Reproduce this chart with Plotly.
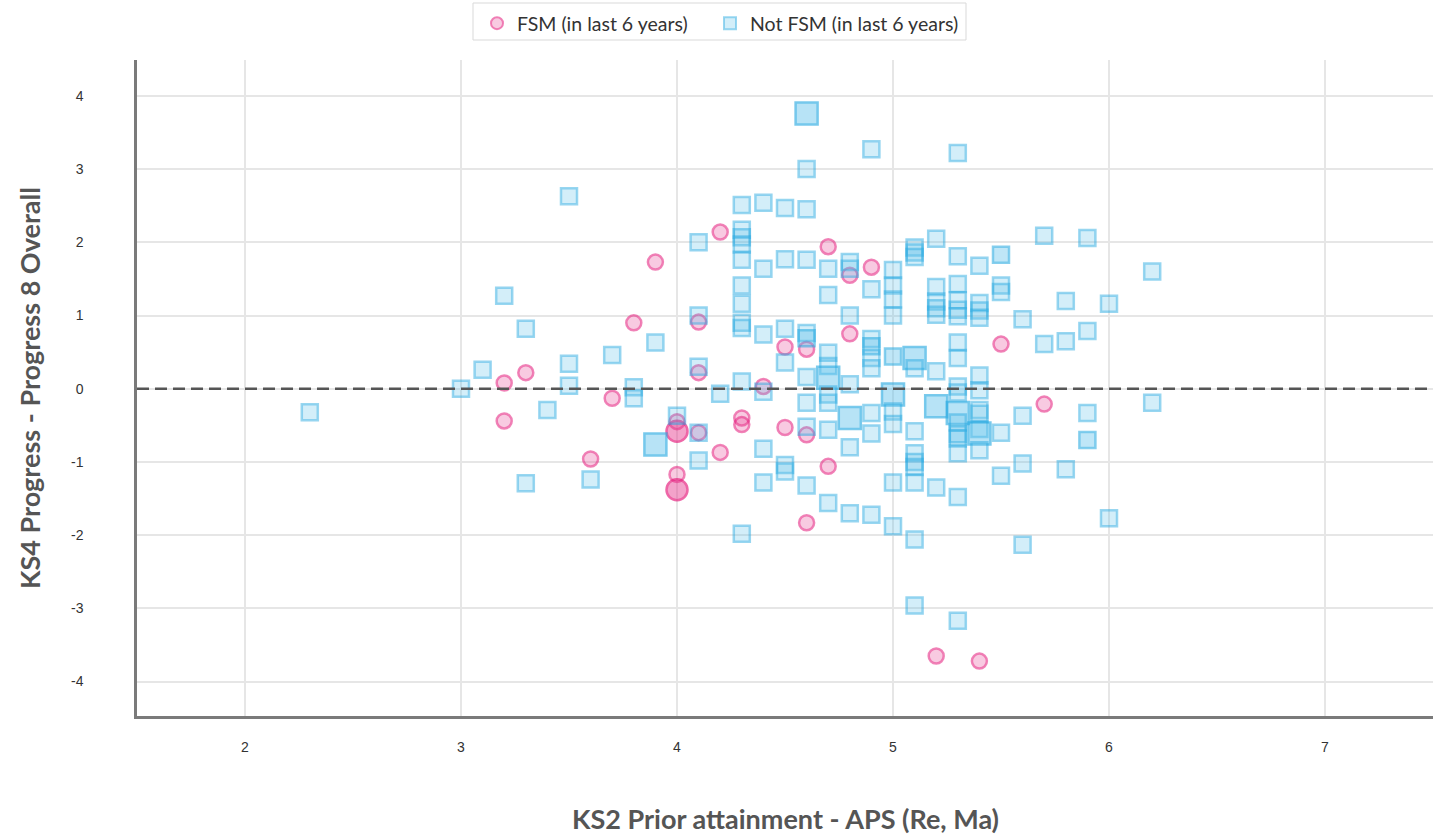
import plotly.graph_objects as go

# ---------------- data ----------------
fsm_x = [3.2, 3.2, 3.3, 3.6, 3.7, 3.8, 3.9,
         4.0, 4.0, 4.0, 4.0,
         4.1, 4.1, 4.1, 4.2, 4.2, 4.3, 4.3, 4.4, 4.5, 4.5,
         4.6, 4.6, 4.6, 4.7, 4.7, 4.8, 4.8, 4.9,
         5.2, 5.4, 5.5, 5.7]
fsm_y = [0.08, -0.44, 0.22, -0.96, -0.13, 0.90, 1.73,
         -0.45, -0.58, -1.17, -1.38,
         0.91, 0.22, -0.60, 2.14, -0.87, -0.40, -0.49, 0.03, 0.57, -0.53,
         0.54, -0.63, -1.83, 1.94, -1.06, 1.55, 0.75, 1.66,
         -3.65, -3.72, 0.61, -0.21]
fsm_n = [1, 1, 1, 1, 1, 1, 1,
         1, 3, 1, 3,
         1, 1, 1, 1, 1, 1, 1, 1, 1, 1,
         1, 1, 1, 1, 1, 1, 1, 1,
         1, 1, 1, 1]

not_x = [2.3, 3.0, 3.1, 3.2, 3.3, 3.3, 3.4, 3.5, 3.5, 3.5, 3.6, 3.7, 3.8, 3.8,
         3.9, 3.9, 4.0,
         4.1, 4.1, 4.1, 4.1, 4.1, 4.2,
         4.3, 4.3, 4.3, 4.3, 4.3, 4.3, 4.3, 4.3, 4.3, 4.3, 4.3,
         4.4, 4.4, 4.4, 4.4, 4.4, 4.4,
         4.5, 4.5, 4.5, 4.5, 4.5, 4.5,
         4.6, 4.6, 4.6, 4.6, 4.6, 4.6, 4.6, 4.6, 4.6, 4.6,
         4.7, 4.7, 4.7, 4.7, 4.7, 4.7, 4.7, 4.7, 4.7,
         4.8, 4.8, 4.8, 4.8, 4.8, 4.8, 4.8,
         4.9, 4.9, 4.9, 4.9, 4.9, 4.9, 4.9, 4.9, 4.9,
         5.0, 5.0, 5.0, 5.0, 5.0, 5.0, 5.0, 5.0, 5.0, 5.0,
         5.1, 5.1, 5.1, 5.1, 5.1, 5.1, 5.1, 5.1, 5.1, 5.1, 5.1, 5.1,
         5.2, 5.2, 5.2, 5.2, 5.2, 5.2, 5.2, 5.2,
         5.3, 5.3, 5.3, 5.3, 5.3, 5.3, 5.3, 5.3, 5.3, 5.3, 5.3, 5.3, 5.3, 5.3, 5.3, 5.3, 5.3,
         5.4, 5.4, 5.4, 5.4, 5.4, 5.4, 5.4, 5.4, 5.4, 5.4, 5.4,
         5.5, 5.5, 5.5, 5.5, 5.5,
         5.6, 5.6, 5.6, 5.6,
         5.7, 5.7,
         5.8, 5.8, 5.8,
         5.9, 5.9, 5.9, 5.9,
         6.0, 6.0,
         6.2, 6.2]
not_y = [-0.32, 0.00, 0.26, 1.27, 0.82, -1.29, -0.29, 2.63, 0.34, 0.04, -1.24, 0.46, 0.02, -0.13,
         0.63, -0.76, -0.37,
         2.00, 1.00, 0.30, -0.60, -0.98, -0.07,
         2.51, 2.17, 2.07, 1.97, 1.76, 1.41, 1.16, 0.90, 0.83, 0.10, -1.98,
         2.54, 1.64, 0.74, -0.04, -0.82, -1.28,
         2.47, 1.77, 0.82, 0.36, -1.04, -1.13,
         3.76, 3.00, 2.45, 1.76, 0.76, 0.69, 0.16, -0.19, -0.52, -1.32,
         1.64, 1.28, 0.49, 0.31, 0.15, -0.08, -0.19, -0.56, -1.56,
         1.73, 1.64, 1.00, 0.06, -0.40, -0.80, -1.70,
         3.27, 1.36, 0.68, 0.58, 0.42, 0.28, -0.33, -0.61, -1.72,
         1.62, 1.41, 1.22, 1.00, 0.44, -0.08, -0.31, -0.48, -1.28, -1.88,
         1.93, 1.86, 1.80, 0.42, 0.28, -0.58, -0.88, -1.00, -1.07, -1.28, -2.06, -2.96,
         2.05, 1.39, 1.19, 1.10, 1.01, 0.24, -0.24, -1.35,
         3.22, 1.81, 1.43, 1.21, 1.08, 0.99, 0.63, 0.42, 0.03, -0.05, -0.33, -0.46, -0.62, -0.68, -0.88, -1.48, -3.17,
         1.68, 1.17, 1.07, 0.97, 0.18, -0.02, -0.29, -0.34, -0.55, -0.61, -0.84,
         1.83, 1.41, 1.32, -0.60, -1.19,
         0.95, -0.37, -1.02, -2.13,
         2.09, 0.61,
         1.20, 0.65, -1.10,
         2.06, 0.79, -0.33, -0.70,
         1.16, -1.77,
         1.60, -0.19]
not_n = [1, 1, 1, 1, 1, 1, 1, 1, 1, 1, 1, 1, 1, 1,
         1, 3, 1,
         1, 1, 1, 1, 1, 1,
         1, 1, 1, 1, 1, 1, 1, 1, 1, 1, 1,
         1, 1, 1, 1, 1, 1,
         1, 1, 1, 1, 1, 1,
         3, 1, 1, 1, 1, 2, 1, 1, 1, 1,
         1, 1, 1, 1, 3, 1, 1, 1, 1,
         1, 1, 1, 1, 3, 1, 1,
         1, 1, 1, 2, 1, 1, 1, 1, 1,
         1, 1, 1, 1, 2, 3, 1, 1, 1, 1,
         1, 1, 1, 3, 1, 1, 1, 1, 1, 1, 1, 1,
         1, 1, 1, 1, 1, 1, 3, 1,
         1, 1, 1, 1, 1, 1, 1, 1, 1, 1, 3, 1, 2, 1, 1, 1, 1,
         1, 1, 1, 1, 1, 1, 1, 1, 1, 3, 1,
         2, 1, 1, 1, 1,
         1, 1, 1, 1,
         1, 1,
         1, 1, 1,
         1, 1, 1, 2,
         1, 1,
         1, 1]

x_ticks = [2, 3, 4, 5, 6, 7]
y_ticks = [-4, -3, -2, -1, 0, 1, 2, 3, 4]
x_title = "KS2 Prior attainment - APS (Re, Ma)"
y_title = "KS4 Progress - Progress 8 Overall"
names = ["FSM (in last 6 years)", "Not FSM (in last 6 years)"]

# ---------------- styling helpers ----------------
W, H = 1445, 838
ML, MR, MT, MB = 137, 12, 60, 122
PW, PH = W - ML - MR, H - MT - MB

def px_x(p):   # page pixel -> paper x
    return (p - ML) / PW

def px_y(p):   # page pixel -> paper y
    return (H - MB - p) / PH

def sizes(ns, base, big):
    return [big if n >= 3 else base for n in ns]

def fills(ns, rgb, a1, a2, a3):
    out = []
    for n in ns:
        a = a3 if n >= 3 else (a2 if n == 2 else a1)
        out.append("rgba(%d,%d,%d,%.2f)" % (rgb + (a,)))
    return out

fig = go.Figure()

fig.add_trace(go.Scatter(
    x=fsm_x, y=fsm_y, mode="markers", name=names[0], legend="legend",
    marker=dict(symbol="circle", size=sizes(fsm_n, 15, 21),
                color=fills(fsm_n, (232, 60, 145), 0.38, 0.5, 0.68),
                line=dict(color=fills(fsm_n, (230, 30, 125), 0.78, 0.85, 0.95), width=2.5)),
))
fig.add_trace(go.Scatter(
    x=not_x, y=not_y, mode="markers", name=names[1], legend="legend2",
    marker=dict(symbol="square", size=sizes(not_n, 16, 22),
                color=fills(not_n, (91, 192, 235), 0.38, 0.55, 0.62),
                line=dict(color=fills(not_n, (40, 170, 225), 0.68, 0.8, 0.88), width=2.5)),
))

# zero reference line
fig.add_shape(type="line", xref="paper", yref="y", x0=0, x1=1, y0=0, y1=0,
              line=dict(color="#555555", width=2.5, dash="12px,6px"), layer="above")
# legend frame
fig.add_shape(type="rect", xref="paper", yref="paper",
              x0=px_x(473), x1=px_x(966), y0=px_y(40), y1=px_y(3),
              line=dict(color="#d9d9d9", width=1), fillcolor="rgba(0,0,0,0)", layer="above")

leg_font = dict(family="Lato, sans-serif", size=19.5, color="#333333")
fig.update_layout(
    width=W, height=H,
    margin=dict(l=ML, r=MR, t=MT, b=MB),
    paper_bgcolor="white", plot_bgcolor="white",
    font=dict(family="Liberation Sans, Arial, sans-serif", size=14, color="#333333"),
    showlegend=True,
    legend=dict(orientation="h", xref="container", yref="container",
                x=477 / W, xanchor="left", y=1 - 4 / H, yanchor="top",
                borderwidth=0, bgcolor="rgba(0,0,0,0)", font=leg_font,
                itemsizing="constant"),
    legend2=dict(orientation="h", xref="container", yref="container",
                 x=710 / W, xanchor="left", y=1 - 4 / H, yanchor="top",
                 borderwidth=0, bgcolor="rgba(0,0,0,0)", font=leg_font,
                 itemsizing="constant"),
    xaxis=dict(range=[1.5, 7.5], tickvals=x_ticks, ticktext=[str(v) for v in x_ticks],
               showgrid=True, gridcolor="#e6e6e6", gridwidth=1.5,
               showline=True, linecolor="#7a7a7a", linewidth=2.5,
               zeroline=False, ticks="", ticklabelstandoff=16),
    yaxis=dict(range=[-4.47, 4.49], tickvals=y_ticks, ticktext=[str(v) for v in y_ticks],
               showgrid=True, gridcolor="#e6e6e6", gridwidth=1.5,
               showline=True, linecolor="#7a7a7a", linewidth=2.5,
               zeroline=False, ticks="", ticklabelstandoff=48),
    annotations=[
        dict(text="<b>" + x_title + "</b>", xref="paper", yref="paper", x=0.5, y=px_y(818),
             xanchor="center", yanchor="middle", showarrow=False,
             font=dict(family="Lato, sans-serif", size=27, color="#555555")),
        dict(text="<b>" + y_title + "</b>", xref="paper", yref="paper", x=px_x(29), y=0.5,
             xanchor="center", yanchor="middle", showarrow=False, textangle=-90,
             font=dict(family="Lato, sans-serif", size=27, color="#555555")),
    ],
)

fig.write_html("out.html", config={"displayModeBar": False},
               post_script="document.body.style.margin='0px';")
